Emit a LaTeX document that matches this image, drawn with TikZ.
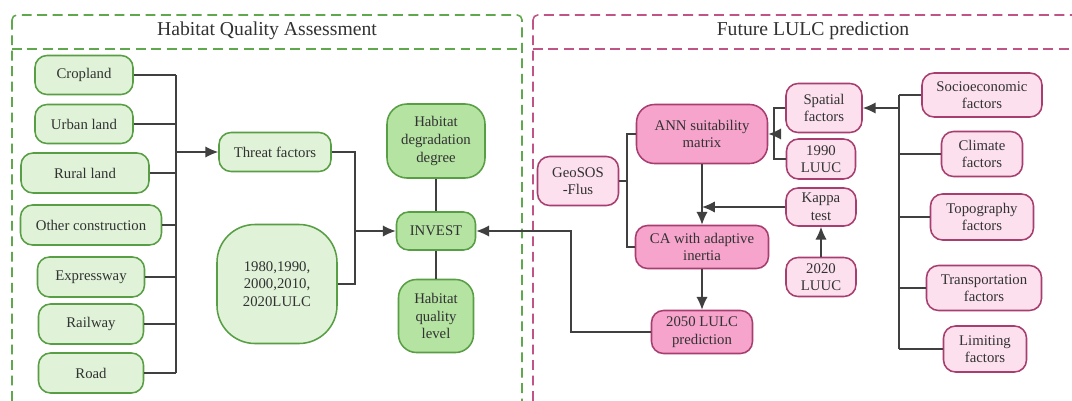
\documentclass[tikz,border=0pt]{standalone}
\usepackage{fontspec}
\setmainfont{Liberation Serif}
\usepackage{tikz}
\usetikzlibrary{arrows.meta}

\definecolor{gline}{RGB}{88,158,68}
\definecolor{gfill}{RGB}{224,243,216}
\definecolor{gdeep}{RGB}{180,227,162}
\definecolor{gdash}{RGB}{96,168,78}
\definecolor{pline}{RGB}{168,62,112}
\definecolor{pfill}{RGB}{252,224,238}
\definecolor{pdeep}{RGB}{246,164,204}
\definecolor{pdash}{RGB}{192,84,134}
\definecolor{txt}{RGB}{50,50,50}

\tikzset{
  sz/.style 2 args={minimum width=#1*0.025cm, minimum height=#2*0.025cm},
  gbox/.style={draw=gline, fill=gfill, line width=1.1pt, rounded corners=0.3cm,
    align=center, inner sep=1pt, text=txt, font=\fontsize{10.5}{12.5}\selectfont},
  gdark/.style={gbox, fill=gdeep},
  pbox/.style={gbox, draw=pline, fill=pfill},
  pdark/.style={pbox, fill=pdeep},
  conn/.style={draw=black!75, line width=0.9pt},
  arr/.style={conn, -{Latex[length=3.2mm,width=2.8mm]}},
}

\begin{document}
\begin{tikzpicture}[x=0.025cm, y=-0.025cm]
      \clip (0,0) rectangle (1072,401);
      \fill[white] (0,0) rectangle (1072,401);

      % panels
      \draw[gdash, dashed, dash pattern=on 7pt off 4pt, line width=1.1pt, rounded corners=0.12cm] (12,15) rectangle (522,410);
      \draw[gdash, dashed, dash pattern=on 7pt off 4pt, line width=1.1pt] (12,49) -- (522,49);
      \node[text=txt, font=\fontsize{14}{16}\selectfont] (ltitle) at (267,31) {Habitat Quality Assessment};

      \draw[pdash, dashed, dash pattern=on 7pt off 4pt, line width=1.1pt, rounded corners=0.12cm] (533,15) rectangle (1090,410);
      \draw[pdash, dashed, dash pattern=on 7pt off 4pt, line width=1.1pt] (533,49) -- (1090,49);
      \node[text=txt, font=\fontsize{14}{16}\selectfont] (rtitle) at (813,31) {Future LULC prediction};

      % habitat quality side
      \node[gbox, sz={98}{39}] (crop) at (84,75) {Cropland};
      \node[gbox, sz={98}{39}] (urban) at (84,124) {Urban land};
      \node[gbox, sz={128}{40}] (rural) at (85,173) {Rural land};
      \node[gbox, sz={141}{40}] (other) at (91,225) {Other construction};
      \node[gbox, sz={107}{40}] (express) at (91,277) {Expressway};
      \node[gbox, sz={105}{40}] (rail) at (91,324) {Railway};
      \node[gbox, sz={105}{40}] (road) at (91,373) {Road};

      \node[gbox, sz={112}{39}] (threat) at (275,152) {Threat factors};
      \node[gbox, sz={120}{119}, rounded corners=0.95cm] (years) at (277,284) {1980,1990,\\2000,2010,\\2020LULC};
      \node[gdark, sz={98}{74}, rounded corners=0.5cm] (degr) at (436,141) {Habitat\\degradation\\degree};
      \node[gdark, sz={79}{38}] (invest) at (436,231) {INVEST};
      \node[gdark, sz={75}{73}, rounded corners=0.45cm] (qual) at (436,316) {Habitat\\quality\\level};

      \coordinate (lbus) at (176,152);
      \coordinate (ljoin) at (355,231);
      \foreach \n in {crop,urban,rural,other,express,rail,road}
        \draw[conn] (\n.east) -- (\n.east -| lbus);
      \draw[conn] (crop.east -| lbus) -- (road.east -| lbus);
      \draw[arr] (lbus |- threat.west) -- (threat.west);
      \draw[conn] (threat.east) -| (ljoin);
      \draw[conn] (years.east) -| (ljoin);
      \draw[arr] (ljoin) -- (invest.west);
      \draw[conn] (degr.south) -- (invest.north);
      \draw[conn] (invest.south) -- (qual.north);

      % LULC prediction side
      \node[pbox, sz={81}{49}] (geo) at (578,181) {GeoSOS\\-Flus};
      \node[pdark, sz={131}{59}, rounded corners=0.45cm] (ann) at (702,134) {ANN suitability\\matrix};
      \node[pdark, sz={133}{43}] (ca) at (702,247) {CA with adaptive\\inertia};
      \node[pdark, sz={101}{43}] (pred) at (702,332) {2050 LULC\\prediction};

      \node[pbox, sz={76}{49}] (spatial) at (824,108) {Spatial\\factors};
      \node[pbox, sz={69}{40}] (luuc90) at (821,159) {1990\\LUUC};
      \node[pbox, sz={70}{38}] (kappa) at (821,207) {Kappa\\test};
      \node[pbox, sz={70}{39}] (luuc20) at (821,277) {2020\\LUUC};

      \node[pbox, sz={120}{44}] (socio) at (982,95) {Socioeconomic\\factors};
      \node[pbox, sz={81}{45}] (clim) at (982,154) {Climate\\factors};
      \node[pbox, sz={103}{46}] (topo) at (982,217) {Topography\\factors};
      \node[pbox, sz={115}{45}] (trans) at (984,288) {Transportation\\factors};
      \node[pbox, sz={83}{46}] (limit) at (985,349) {Limiting\\factors};

      \coordinate (rbus) at (899,108);
      \coordinate (abr) at (774,134);
      \coordinate (gbr) at (627,181);
      \coordinate (back) at (571,231);
      \foreach \n in {socio,clim,topo,trans,limit}
        \draw[conn] (\n.west) -- (\n.west -| rbus);
      \draw[conn] (socio.west -| rbus) -- (limit.west -| rbus);
      \draw[arr] (rbus) -- (spatial.east);
      \draw[conn] (spatial.west) -| (abr |- luuc90.west) -- (luuc90.west);
      \draw[arr] (abr) -- (ann.east);
      \draw[conn] (geo.east) -- (gbr);
      \draw[conn] (ann.west) -| (gbr);
      \draw[conn] (ca.west) -| (gbr);
      \draw[arr] (ann.south) -- (ca.north);
      \draw[arr] (kappa.west) -- (kappa.west -| ca.north);
      \draw[arr] (luuc20.north) -- (kappa.south);
      \draw[arr] (ca.south) -- (pred.north);
      \draw[arr] (pred.west) -| (back) -- (invest.east);
    \end{tikzpicture}
\end{document}
